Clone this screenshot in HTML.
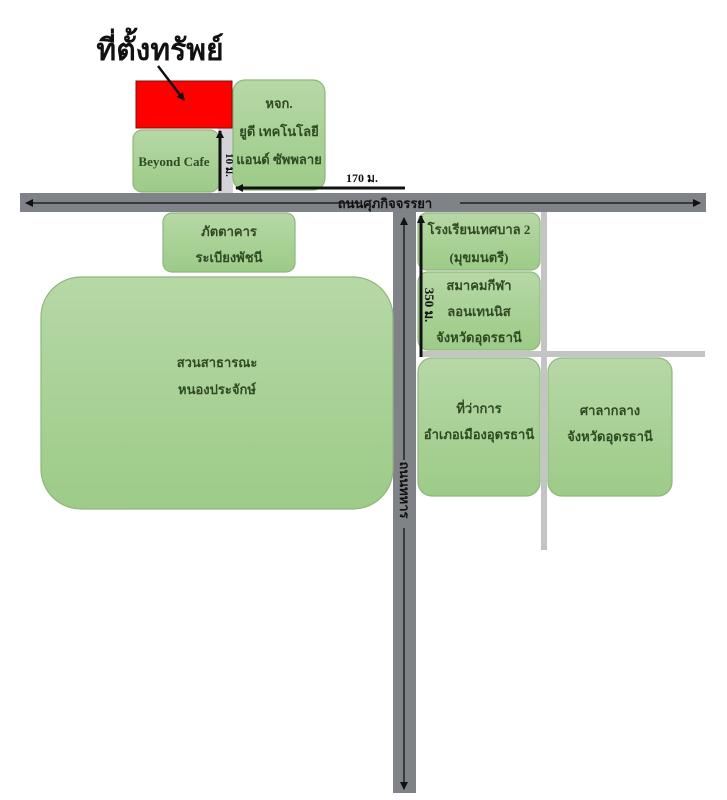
<!DOCTYPE html>
<html><head><meta charset="utf-8"><style>
body{margin:0;background:#fff}
svg{display:block}
text{font-family:"Liberation Serif","Noto Serif CJK SC",serif;font-weight:bold}
.b{fill:url(#g);stroke:#8fb67c;stroke-width:1.2}
.t{fill:#2f4a22;font-size:13px;text-anchor:middle}
</style></head><body>
<svg width="727" height="800" viewBox="0 0 727 800" xmlns="http://www.w3.org/2000/svg">
<defs>
<linearGradient id="g" x1="0" y1="0" x2="0" y2="1"><stop offset="0" stop-color="#b6d8a6"/><stop offset="1" stop-color="#9dcb88"/></linearGradient>
<marker id="a" markerWidth="8" markerHeight="8" refX="7" refY="4" orient="auto" markerUnits="userSpaceOnUse"><path d="M0,0 L8,4 L0,8z" fill="#111"/></marker>
</defs>
<!-- light roads -->
<rect x="541" y="212" width="6" height="338" fill="#c4c4c4"/>
<rect x="420" y="351" width="285" height="6" fill="#c4c4c4"/>
<rect x="218" y="128" width="15" height="65" fill="#d4d4d8"/>
<!-- main roads -->
<rect x="20" y="193" width="686" height="19" fill="#7f8287"/>
<rect x="393" y="212" width="23" height="581" fill="#7f8287"/>
<line x1="360" y1="203" x2="26" y2="203" stroke="#222" stroke-width="1.5" marker-end="url(#a)"/>
<line x1="460" y1="203" x2="700" y2="203" stroke="#222" stroke-width="1.5" marker-end="url(#a)"/>
<text x="385" y="208" font-size="13" text-anchor="middle" fill="#111">ถนนศุภกิจจรรยา</text>
<line x1="404" y1="460" x2="404" y2="218" stroke="#222" stroke-width="1.5" marker-end="url(#a)"/>
<line x1="404" y1="528" x2="404" y2="789" stroke="#222" stroke-width="1.5" marker-end="url(#a)"/>
<text transform="translate(400,490) rotate(90)" font-size="13" text-anchor="middle" fill="#111">ถนนทหาร</text>
<!-- boxes -->
<rect x="133" y="130" width="86" height="62" rx="9" class="b"/>
<text x="174" y="166" class="t" font-size="12">Beyond Cafe</text>
<rect x="233" y="80" width="92" height="110" rx="12" class="b"/>
<text x="279" y="108" class="t">หจก.</text>
<text x="279" y="136" class="t">ยูดี เทคโนโลยี</text>
<text x="279" y="164" class="t">แอนด์ ซัพพลาย</text>
<rect x="136" y="81" width="96" height="47" fill="#ff0000" stroke="#7a1010" stroke-width="1"/>
<rect x="163" y="213" width="132" height="59" rx="9" class="b"/>
<text x="229" y="236" class="t">ภัตตาคาร</text>
<text x="229" y="262" class="t">ระเบียงพัชนี</text>
<rect x="41" y="277" width="352" height="232" rx="40" class="b"/>
<text x="217" y="367" class="t">สวนสาธารณะ</text>
<text x="217" y="394" class="t">หนองประจักษ์</text>
<rect x="418" y="213" width="122" height="57" rx="9" class="b"/>
<text x="479" y="234" class="t">โรงเรียนเทศบาล 2</text>
<text x="479" y="262" class="t">(มุขมนตรี)</text>
<rect x="418" y="272" width="122" height="78" rx="10" class="b"/>
<text x="479" y="290" class="t">สมาคมกีฬา</text>
<text x="479" y="316" class="t">ลอนเทนนิส</text>
<text x="479" y="342" class="t">จังหวัดอุดรธานี</text>
<rect x="418" y="358" width="122" height="138" rx="14" class="b"/>
<text x="479" y="413" class="t">ที่ว่าการ</text>
<text x="479" y="439" class="t">อำเภอเมืองอุดรธานี</text>
<rect x="548" y="358" width="124" height="138" rx="14" class="b"/>
<text x="610" y="415" class="t">ศาลากลาง</text>
<text x="610" y="441" class="t">จังหวัดอุดรธานี</text>
<!-- distance arrows -->
<line x1="220" y1="191" x2="220" y2="131" stroke="#111" stroke-width="3" marker-end="url(#a)"/>
<text transform="translate(226,165) rotate(90)" font-size="11" text-anchor="middle" fill="#111">10 ม.</text>
<line x1="405" y1="188" x2="236" y2="188" stroke="#111" stroke-width="3" marker-end="url(#a)"/>
<text x="362" y="182" font-size="12" text-anchor="middle" fill="#111">170 ม.</text>
<line x1="421" y1="357" x2="421" y2="216" stroke="#111" stroke-width="3" marker-end="url(#a)"/>
<text transform="translate(425,305) rotate(90)" font-size="13" text-anchor="middle" fill="#111">350 ม.</text>
<!-- title -->
<text x="160" y="60" font-size="30" text-anchor="middle" fill="#111">ที่ตั้งทรัพย์</text>
<line x1="158" y1="66" x2="184" y2="100" stroke="#111" stroke-width="2.5" marker-end="url(#a)"/>
</svg>
</body></html>
